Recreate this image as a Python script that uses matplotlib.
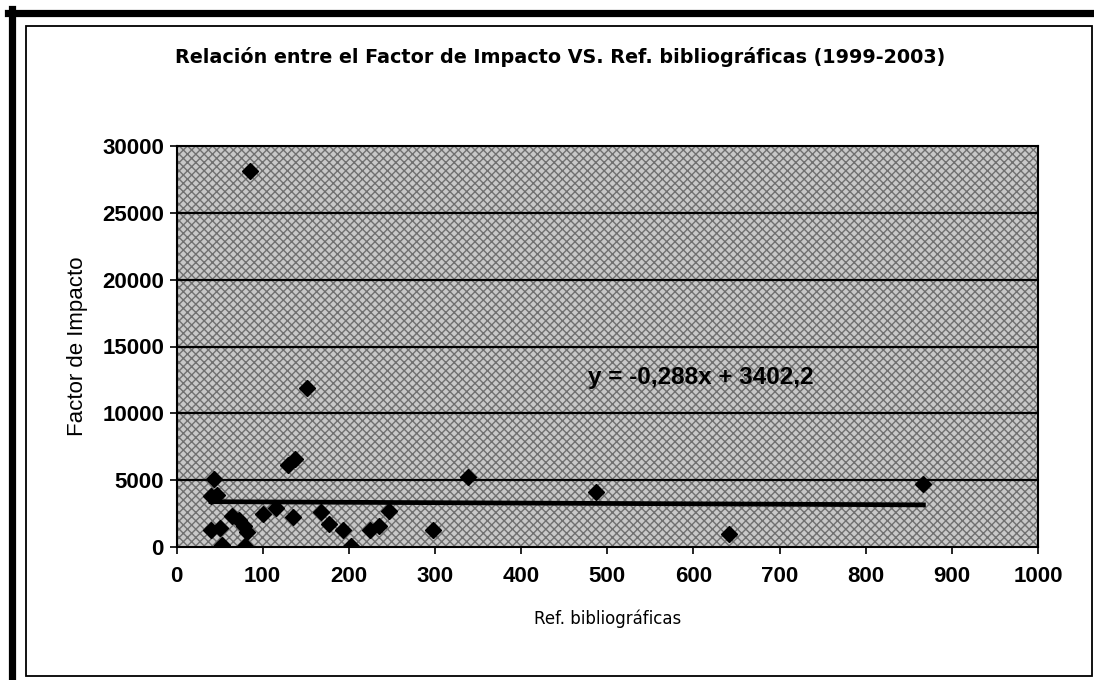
import matplotlib
matplotlib.use("Agg")
import matplotlib.pyplot as plt
from matplotlib.lines import Line2D
from matplotlib.patches import Rectangle
import numpy as np

# data
ref_biblio = [85, 151, 130, 137, 43, 40, 47, 100, 115, 135, 168, 177, 193,
              225, 235, 247, 298, 338, 487, 641, 867, 40, 50, 53, 65, 72,
              78, 82, 80, 203]
factor_imp = [28150, 11900, 6100, 6600, 5100, 3800, 3900, 2500, 2900, 2250,
              2650, 1750, 1270, 1300, 1600, 2700, 1300, 5200, 4100, 1000,
              4700, 1300, 1400, 150, 2300, 2000, 1600, 1100, 50, 50]
slope, intercept = -0.288, 3402.2

title = "Relación entre el Factor de Impacto VS. Ref. bibliográficas (1999-2003)"
xticks = [0, 100, 200, 300, 400, 500, 600, 700, 800, 900, 1000]
yticks = [0, 5000, 10000, 15000, 20000, 25000, 30000]

W, H = 1094, 680
fig = plt.figure(figsize=(W / 100, H / 100), dpi=100)
fig.patch.set_facecolor("white")

ax = fig.add_axes([176.5 / W, 1 - 547 / H, (1038 - 176.5) / W, (547 - 146) / H])
ax.set_facecolor("white")
# stippled plot area
ax.add_patch(Rectangle((0, 0), 1, 1, transform=ax.transAxes, facecolor="#c8c8c8",
                       hatch="xxxx", edgecolor="#707070", lw=0, zorder=0))

for yv in yticks[1:-1]:
    ax.axhline(yv, color="black", lw=1.6, zorder=1)

ax.plot(ref_biblio, factor_imp, linestyle="none", marker="D", markersize=8.5,
        color="black", zorder=3)

xs = np.array([min(ref_biblio), max(ref_biblio)])
ax.plot(xs, slope * xs + intercept, color="black", lw=3.4, zorder=2)

ax.text(609, 12700, "y = -0,288x + 3402,2", fontsize=17.5, fontweight="bold",
        family="Liberation Sans", ha="center", va="center", zorder=4)

ax.set_xlim(0, 1000)
ax.set_ylim(0, 30000)
ax.set_xticks(xticks)
ax.set_yticks(yticks)
ax.tick_params(axis="x", direction="out", length=5, width=1.2, color="black",
               pad=9, labelsize=16)
ax.tick_params(axis="y", direction="out", length=5, width=1.2, color="black",
               pad=4, labelsize=16)
for lab in ax.get_xticklabels() + ax.get_yticklabels():
    lab.set_family("Liberation Sans")
    lab.set_fontweight("bold")
for s in ax.spines.values():
    s.set_linewidth(1.5)
    s.set_color("black")

ax.set_xlabel("Ref. bibliográficas", fontsize=12, family="DejaVu Sans",
              labelpad=16)
ax.set_ylabel("Factor de Impacto", fontsize=16, family="Liberation Sans",
              labelpad=10)

fig.text(0.512, 1 - 57 / H, title, fontsize=13.8, fontweight="bold",
         family="DejaVu Sans", ha="center", va="center")

# scanned frame: thick outer border and thin inner box
fig.add_artist(Line2D([11.5 / W, 11.5 / W], [0, 1 - 9 / H], color="black", lw=5.2,
                      transform=fig.transFigure))
fig.add_artist(Line2D([8 / W, 1], [1 - 12.5 / H, 1 - 12.5 / H], color="black", lw=5.2,
                      transform=fig.transFigure))
fig.add_artist(Rectangle((26 / W, 1 - 676 / H), (1092 - 26) / W, (676 - 26) / H,
                         transform=fig.transFigure, fill=False, edgecolor="black",
                         lw=1.3))

fig.savefig("out.png", dpi=100)
